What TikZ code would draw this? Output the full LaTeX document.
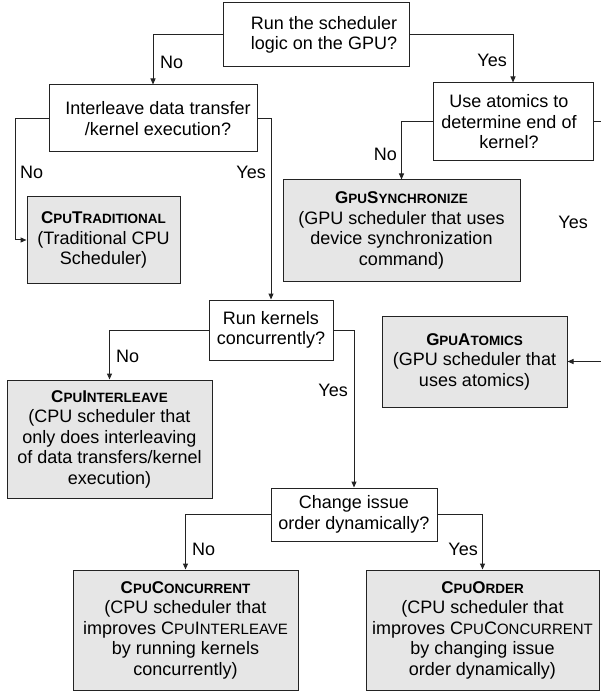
\documentclass[tikz,border=0pt]{standalone}
\usepackage{fontspec}
\setmainfont{Liberation Sans}
\usetikzlibrary{arrows.meta}
\newcommand{\tsc}[1]{{\fontsize{13.5}{13.5}\selectfont #1}}
\newcommand{\isc}[1]{{\fontsize{15}{15}\selectfont #1}}
\newcommand{\ttl}[1]{{\bfseries\fontsize{17}{17}\selectfont #1}}
\definecolor{boxgray}{RGB}{230,230,230}
\definecolor{linec}{RGB}{35,35,35}
\begin{document}
\begin{tikzpicture}[x=1pt,y=-1pt,
  font=\fontsize{18}{20.5}\selectfont,
  dbox/.style={draw=linec, line width=1pt, fill=white, inner sep=0pt},
  rbox/.style={draw=linec, line width=1pt, fill=boxgray, inner sep=0pt},
  txt/.style={align=center, inner sep=0pt, text=black},
  lbl/.style={inner sep=0pt, text=black},
  arr/.style={draw=linec, line width=1pt, -{Triangle[length=6pt,width=5pt]}},
  ln/.style={draw=linec, line width=1pt}]
\useasboundingbox (0,0) rectangle (600,692);
\coordinate (lft) at (15,0);
\coordinate (rgt) at (601,0);
% decision boxes
\node[dbox, minimum width=186, minimum height=64] (b1) at (316,35) {};
\node[txt] (b1t) at ([xshift=8]b1.center) {Run the scheduler\\logic on the GPU?};
\node[dbox, minimum width=208, minimum height=67] (b2) at (153,118.5) {};
\node[txt] (b2t) at ([xshift=5]b2.center) {Interleave data transfer\\/kernel execution?};
\node[dbox, minimum width=160, minimum height=78] (b3) at (513,122) {};
\node[txt] (b3t) at ([xshift=-4]b3.center) {Use atomics to\\determine end of\\kernel?};
\node[dbox, minimum width=124, minimum height=60] (rk) at (271,330) {};
\node[txt] (rkt) at (rk.center) {Run kernels\\concurrently?};
\node[dbox, minimum width=166, minimum height=53] (chg) at (354,514.5) {};
\node[txt] (chgt) at (chg.center) {Change issue\\order dynamically?};
% result boxes
\node[rbox, minimum width=153, minimum height=86] (trad) at (103.5,240) {};
\node[txt] (tradt) at (trad.center) {\ttl{C\tsc{PU}T\tsc{RADITIONAL}}\\(Traditional CPU\\Scheduler)};
\node[rbox, minimum width=237, minimum height=101] (sync) at (401.5,230.5) {};
\node[txt] (synct) at (sync.center) {\ttl{G\tsc{PU}S\tsc{YNCHRONIZE}}\\(GPU scheduler that uses\\device synchronization\\command)};
\node[rbox, minimum width=185, minimum height=91] (atom) at (474.5,361.5) {};
\node[txt] (atomt) at (atom.center) {\ttl{G\tsc{PU}A\tsc{TOMICS}}\\(GPU scheduler that\\uses atomics)};
\node[rbox, minimum width=205, minimum height=118] (inter) at (109.5,439) {};
\node[txt] (intert) at (inter.center) {\ttl{C\tsc{PU}I\tsc{NTERLEAVE}}\\(CPU scheduler that\\only does interleaving\\of data transfers/kernel\\execution)};
\node[rbox, minimum width=225, minimum height=120] (conc) at (185.5,630) {};
\node[txt] (conct) at (conc.center) {\ttl{C\tsc{PU}C\tsc{ONCURRENT}}\\(CPU scheduler that\\improves C\isc{PU}I\isc{NTERLEAVE}\\by running kernels\\concurrently)};
\node[rbox, minimum width=233, minimum height=120] (ord) at (482.5,630) {};
\node[txt] (ordt) at (ord.center) {\ttl{C\tsc{PU}O\tsc{RDER}}\\(CPU scheduler that\\improves C\isc{PU}C\isc{ONCURRENT}\\by changing issue\\order dynamically)};
% connectors
\draw[arr] (b1.west) -| (b2.north);
\draw[arr] (b1.east) -| (b3.north);
\draw[arr] (b2.west) -- (b2.west -| lft) |- (trad.west);
\draw[arr] (b2.east) -| (rk.north);
\draw[arr] (b3.west) -| (sync.north);
\draw[arr] (b3.east) -- (b3.east -| rgt) |- (atom.east);
\draw[arr] (rk.west) -| (inter.north);
\draw[arr] (rk.east) -| (chg.north);
\draw[arr] (chg.west) -| (conc.north);
\draw[arr] (chg.east) -| (ord.north);
% labels
\node[lbl, anchor=west] (l1) at (160,62) {No};
\node[lbl, anchor=east] (l2) at (507,60) {Yes};
\node[lbl, anchor=west] (l3) at (20,172) {No};
\node[lbl, anchor=east] (l4) at (266,172) {Yes};
\node[lbl, anchor=east] (l5) at (397,154) {No};
\node[lbl, anchor=east] (l6) at (588,222) {Yes};
\node[lbl, anchor=west] (l7) at (116,356) {No};
\node[lbl, anchor=east] (l8) at (348,390) {Yes};
\node[lbl, anchor=west] (l9) at (192,549) {No};
\node[lbl, anchor=east] (l10) at (478,549) {Yes};
\end{tikzpicture}
\end{document}
